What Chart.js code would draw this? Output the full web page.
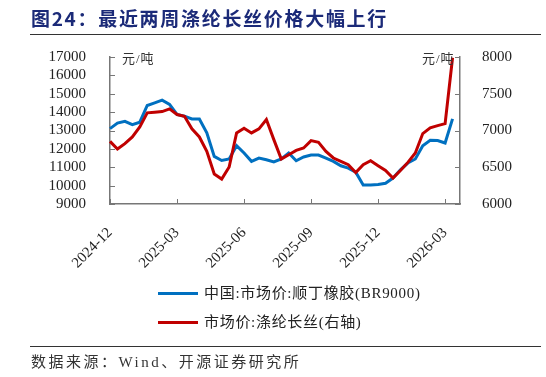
<!DOCTYPE html>
<html>
<head>
<meta charset="utf-8">
<script src="https://cdn.jsdelivr.net/npm/chart.js@4/dist/chart.umd.min.js"></script>
<style>
  html, body { margin: 0; padding: 0; background: #fff; }
  #wrap { position: relative; width: 546px; height: 377px; overflow: hidden; }
  #chart { position: absolute; left: 0; top: 0; }
  .title { position: absolute; left: 31px; top: 4px; font: bold 19px "Noto Sans CJK SC", sans-serif; color: #1b2a78; letter-spacing: 1.7px; white-space: nowrap; }
  .rule { position: absolute; left: 30px; width: 511px; height: 0; border-top: 1.5px solid #333; }
  .unit { position: absolute; top: 48px; font: 13px "Liberation Serif", "Noto Sans CJK SC", serif; color: #333; letter-spacing: 1px; }
  .legend { position: absolute; left: 158px; font: 15px "Liberation Serif", "Noto Sans CJK SC", serif; color: #222; letter-spacing: 0.7px; white-space: nowrap; }
  .legend i { display: inline-block; width: 40px; height: 3px; vertical-align: middle; margin-right: 6px; position: relative; top: -1px; }
  .source { position: absolute; left: 31px; top: 350px; font: 15px "Liberation Serif", "Noto Sans CJK SC", serif; color: #333; letter-spacing: 2.5px; white-space: nowrap; }
</style>
</head>
<body>
<div id="wrap">
  <canvas id="chart" width="546" height="377"></canvas>
  <div class="title">图24：最近两周涤纶长丝价格大幅上行</div>
  <div class="rule" style="top:34px"></div>
  <div class="unit" style="left:122px">元/吨</div>
  <div class="unit" style="left:422px">元/吨</div>
  <div class="legend" style="top:281px"><i style="background:#0070c0"></i>中国:市场价:顺丁橡胶(BR9000)</div>
  <div class="legend" style="top:310px"><i style="background:#c00000"></i>市场价:涤纶长丝(右轴)</div>
  <div class="rule" style="top:346px"></div>
  <div class="source">数据来源：Wind、开源证券研究所</div>
</div>
<script>
// dekad dates (every ~10 days)
const categories = [
  "2024-12-10", "2024-12-20", "2024-12-31", "2025-01-10", "2025-01-20", "2025-01-31",
  "2025-02-10", "2025-02-20", "2025-02-28", "2025-03-10", "2025-03-20", "2025-03-31",
  "2025-04-10", "2025-04-20", "2025-04-30", "2025-05-10", "2025-05-20", "2025-05-31",
  "2025-06-10", "2025-06-20", "2025-06-30", "2025-07-10", "2025-07-20", "2025-07-31",
  "2025-08-10", "2025-08-20", "2025-08-31", "2025-09-10", "2025-09-20", "2025-09-30",
  "2025-10-10", "2025-10-20", "2025-10-31", "2025-11-10", "2025-11-20", "2025-11-30",
  "2025-12-10", "2025-12-20", "2025-12-31", "2026-01-10", "2026-01-20", "2026-01-31",
  "2026-02-10", "2026-02-20", "2026-02-28", "2026-03-10", "2026-03-20", "2026-03-31"
];
const tickMonths = ["2024-12", "2025-03", "2025-06", "2025-09", "2025-12", "2026-03"];

// 顺丁橡胶 BR9000, 元/吨 (left axis)
const rubber = [
  13100, 13400, 13500, 13320, 13450, 14360, 14500, 14650, 14420, 13870,
  13780, 13630, 13630, 12870, 11590, 11370, 11450, 12175, 11775, 11320,
  11500, 11410, 11285, 11450, 11775, 11355, 11560, 11665, 11665, 11500,
  11320, 11080, 10950, 10730, 10040, 10040, 10060, 10130, 10410, 10860,
  11230, 11450, 12175, 12465, 12450, 12320, 13630, null
];
// 涤纶长丝, 元/吨 (right axis)
const polyester = [
  6852, 6748, 6821, 6912, 7049, 7240, 7249, 7258, 7295, 7217,
  7194, 7022, 6912, 6716, 6407, 6339, 6503, 6967, 7030, 6967,
  7022, 7149, 6876, 6612, 6671, 6730, 6762, 6862, 6839, 6716,
  6626, 6579, 6534, 6429, 6534, 6589, 6521, 6456, 6352, 6456,
  6566, 6694, 6958, 7036, 7067, 7094, 7990, null
];

const axisColor = "#777";
const tickFont = { family: "Liberation Serif", size: 15 };

function quarterLabel(d) {
  return d.endsWith("-10") && tickMonths.includes(d.slice(0, 7)) ? d.slice(0, 7) : "";
}

// short tick marks pointing into the plot
const inwardTicks = {
  id: "inwardTicks",
  beforeDatasetsDraw(chart) {
    const { ctx, chartArea: a, scales } = chart;
    ctx.save();
    ctx.strokeStyle = axisColor;
    ctx.lineWidth = 1;
    ctx.beginPath();
    scales.y.ticks.forEach(t => {
      const py = Math.round(scales.y.getPixelForValue(t.value)) + 0.5;
      ctx.moveTo(a.left, py); ctx.lineTo(a.left + 5, py);
    });
    scales.y1.ticks.forEach(t => {
      const py = Math.round(scales.y1.getPixelForValue(t.value)) + 0.5;
      ctx.moveTo(a.right, py); ctx.lineTo(a.right - 5, py);
    });
    categories.forEach((c, i) => {
      if (quarterLabel(c)) {
        const px = Math.round(scales.x.getPixelForValue(i)) + 0.5;
        ctx.moveTo(px, a.bottom); ctx.lineTo(px, a.bottom - 5);
      }
    });
    ctx.stroke();
    ctx.restore();
  }
};

new Chart(document.getElementById("chart"), {
  type: "line",
  data: {
    labels: categories,
    datasets: [
      {
        label: "中国:市场价:顺丁橡胶(BR9000)",
        data: rubber,
        yAxisID: "y",
        borderColor: "#0070c0",
        borderWidth: 3,
        pointRadius: 0,
        tension: 0,
        order: 2
      },
      {
        label: "市场价:涤纶长丝(右轴)",
        data: polyester,
        yAxisID: "y1",
        borderColor: "#c00000",
        borderWidth: 3,
        pointRadius: 0,
        tension: 0,
        order: 1
      }
    ]
  },
  options: {
    responsive: false,
    animation: false,
    layout: { padding: { top: 57, left: 0, right: 0, bottom: 0 } },
    plugins: { legend: { display: false }, tooltip: { enabled: false } },
    scales: {
      x: {
        type: "category",
        offset: false,
        grid: { display: false },
        border: { display: true, color: axisColor, width: 1.5 },
        ticks: {
          autoSkip: false,
          maxRotation: 45,
          minRotation: 45,
          padding: 12,
          color: "#222",
          font: tickFont,
          callback: (v, i) => quarterLabel(categories[i])
        },
        afterFit: s => { s.height = 173; }
      },
      y: {
        position: "left",
        min: 9000,
        max: 17000,
        grid: { display: false },
        border: { display: true, color: axisColor, width: 1.5 },
        ticks: { stepSize: 1000, autoSkip: false, padding: 16, color: "#222", font: tickFont, callback: v => String(v) },
        afterFit: s => { s.width = 110; }
      },
      y1: {
        position: "right",
        min: 6000,
        max: 8000,
        grid: { display: false },
        border: { display: true, color: axisColor, width: 1.5 },
        ticks: { stepSize: 500, autoSkip: false, padding: 14, color: "#222", font: tickFont, callback: v => String(v) },
        afterFit: s => { s.width = 86; }
      }
    }
  },
  plugins: [inwardTicks]
});
</script>
</body>
</html>
